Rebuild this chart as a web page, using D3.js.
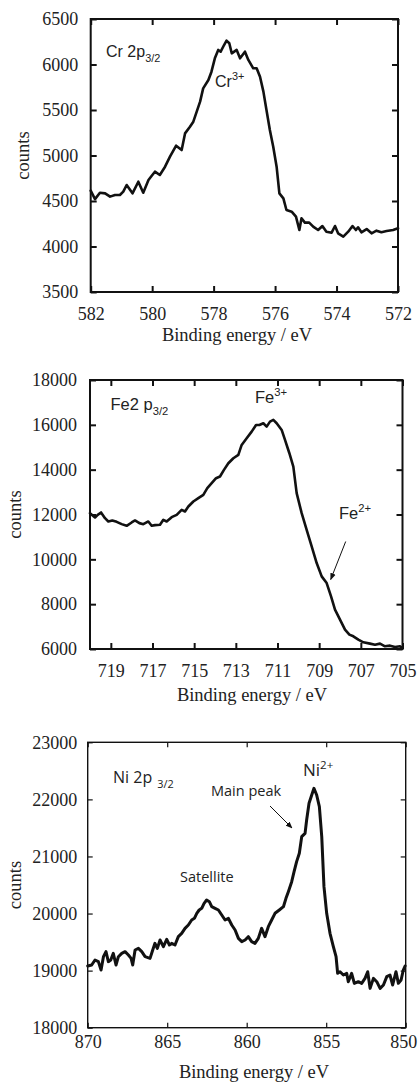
<!DOCTYPE html>
<html>
<head>
<meta charset="utf-8">
<script src="https://cdn.jsdelivr.net/npm/d3@7/dist/d3.min.js"></script>
<style>
  html, body { margin: 0; padding: 0; background: #fff; }
  svg { display: block; }
  .serif { font-family: "Liberation Serif", "DejaVu Serif", serif; }
  .sans { font-family: "Liberation Sans", Arial, sans-serif; }
  .myr { font-family: "Open Sans", "Noto Sans", sans-serif; }
</style>
</head>
<body>
<svg id="chart" width="418" height="1092"></svg>
<script>
// ---------------- DATA ----------------
// Cr 2p3/2 spectrum
const crEnergy = [582.00,581.86,581.70,581.53,581.37,581.21,581.05,580.94,580.83,580.64,580.45,580.29,580.12,580.02,579.91,579.75,579.58,579.42,579.22,579.04,578.93,578.77,578.66,578.55,578.44,578.34,578.17,578.07,577.96,577.85,577.77,577.66,577.58,577.49,577.41,577.25,577.14,576.98,576.87,576.71,576.60,576.49,576.38,576.28,576.17,576.06,575.95,575.86,575.73,575.63,575.46,575.32,575.21,575.14,575.03,574.89,574.76,574.60,574.46,574.33,574.16,574.05,573.95,573.78,573.62,573.48,573.37,573.30,573.19,573.02,572.86,572.70,572.54,572.37,572.16,572.00];
const crCounts = [4613,4521,4591,4584,4548,4566,4566,4603,4676,4584,4712,4591,4731,4775,4822,4786,4877,4987,5108,5060,5243,5317,5372,5482,5592,5738,5830,5921,6068,6160,6141,6214,6262,6233,6123,6160,6068,6141,6050,5958,5958,5866,5702,5500,5280,5097,4877,4584,4529,4401,4383,4328,4181,4310,4262,4262,4218,4181,4225,4163,4152,4225,4145,4108,4163,4225,4181,4211,4156,4192,4145,4174,4156,4170,4181,4200];

// Fe 2p3/2 spectrum
const feEnergy = [720.00,719.76,719.63,719.47,719.28,719.12,718.93,718.72,718.48,718.24,718.00,717.84,717.63,717.44,717.20,717.04,716.88,716.64,716.48,716.32,716.08,715.84,715.60,715.44,715.28,715.04,714.80,714.56,714.37,714.16,713.95,713.76,713.57,713.36,713.12,712.88,712.72,712.48,712.24,712.03,711.87,711.68,711.52,711.36,711.20,711.04,710.80,710.64,710.43,710.24,710.08,709.84,709.60,709.36,709.12,708.88,708.64,708.43,708.24,708.00,707.76,707.55,707.36,707.12,706.88,706.56,706.32,706.08,705.84,705.60,705.36,705.12,705.00];
const feCounts = [12060,11867,11986,12090,11837,11689,11733,11674,11570,11496,11644,11733,11615,11570,11689,11496,11525,11540,11763,11689,11882,11986,12208,12134,12357,12580,12728,12877,13174,13397,13619,13694,13991,14288,14510,14659,15104,15401,15698,15995,15995,16070,15921,16144,16218,16070,15772,15327,14733,14139,12951,12060,11318,10575,9833,9239,8942,8348,7754,7308,6863,6640,6566,6417,6298,6239,6194,6239,6120,6150,6090,6120,6046];

// Ni 2p3/2 spectrum
const niEnergy = [870.00,869.75,869.54,869.33,869.16,869.01,868.85,868.70,868.55,868.39,868.22,868.07,867.86,867.65,867.44,867.27,867.17,867.02,866.81,866.60,866.39,866.08,865.91,865.77,865.62,865.45,865.24,865.03,864.86,864.72,864.51,864.30,864.09,863.88,863.67,863.46,863.29,863.14,862.99,862.83,862.68,862.52,862.35,862.20,861.99,861.78,861.57,861.36,861.15,860.94,860.73,860.52,860.31,860.10,859.90,859.69,859.48,859.27,859.06,858.85,858.64,858.43,858.22,857.95,857.69,857.53,857.38,857.17,857.02,856.86,856.69,856.54,856.33,856.23,856.08,855.91,855.77,855.60,855.43,855.28,855.14,854.97,854.76,854.55,854.38,854.28,854.13,853.92,853.71,853.61,853.40,853.23,852.98,852.77,852.56,852.39,852.24,852.03,851.82,851.61,851.40,851.19,850.99,850.82,850.61,850.46,850.29,850.15,850.04];
const niCounts = [19081,19098,19186,19157,19011,19244,19332,19157,19186,19303,19098,19244,19303,19332,19273,19215,19098,19361,19390,19332,19244,19215,19361,19478,19390,19536,19419,19548,19449,19478,19449,19595,19653,19741,19799,19887,19916,20004,20062,20091,20179,20237,20208,20120,20091,20062,19974,19887,19916,19799,19712,19565,19507,19536,19595,19507,19478,19565,19741,19595,19770,19887,20004,20062,20120,20266,20383,20558,20734,20909,21055,21347,21405,21639,21931,22077,22194,22077,21873,21347,20471,20004,19653,19420,19244,18952,18981,18923,18952,18806,18952,18777,18806,18777,18864,18981,18689,18864,18806,18689,18748,18894,18923,18748,18981,18777,18835,19011,19081];

// Tick values
const crXTicks = [582, 580, 578, 576, 574, 572];
const crYTicks = [3500, 4000, 4500, 5000, 5500, 6000, 6500];
const feXTicks = [719, 717, 715, 713, 711, 709, 707, 705];
const feYTicks = [6000, 8000, 10000, 12000, 14000, 16000, 18000];
const niXTicks = [870, 865, 860, 855, 850];
const niYTicks = [18000, 19000, 20000, 21000, 22000, 23000];

// Axis titles
const xTitle = "Binding energy / eV";
const yTitle = "counts";

// ---------------- DRAW ----------------
const svg = d3.select("#chart");

const defs = svg.append("defs");
defs.append("marker")
  .attr("id", "arrowhead")
  .attr("viewBox", "0 0 10 10")
  .attr("refX", 9).attr("refY", 5)
  .attr("markerWidth", 7).attr("markerHeight", 7)
  .attr("markerUnits", "userSpaceOnUse")
  .attr("orient", "auto")
  .append("path").attr("d", "M0,1 L10,5 L0,9 Z").attr("fill", "#111");

function panel(o) {
  const x = d3.scaleLinear().domain(o.xDomain).range([o.left, o.right]);
  const y = d3.scaleLinear().domain(o.yDomain).range([o.bottom, o.top]);
  const g = svg.append("g");

  // curve
  const pts = o.energy.map((e, i) => [e, o.counts[i]]);
  g.append("path")
    .datum(pts)
    .attr("fill", "none")
    .attr("stroke", "#111")
    .attr("stroke-width", o.lineW)
    .attr("stroke-linejoin", "round")
    .attr("stroke-linecap", "round")
    .attr("d", d3.line().x(d => x(d[0])).y(d => y(d[1])));

  const styleAxis = (sel) => {
    sel.select(".domain").remove();
    sel.selectAll(".tick line").attr("stroke", "#111").attr("stroke-width", o.tickW);
    sel.attr("font-family", null).attr("font-size", null);
    sel.selectAll(".tick text").attr("class", "serif").style("font-size", "18px").attr("fill", "#222");
  };

  // bottom axis
  const gb = g.append("g").attr("transform", `translate(0,${o.bottom})`)
    .call(d3.axisBottom(x).tickValues(o.xTicks).tickSizeInner(-o.tickLen).tickSizeOuter(0).tickPadding(o.xPad).tickFormat(d3.format("d")));
  styleAxis(gb);
  if (o.lastShift) {
    gb.selectAll(".tick text").filter(d => d === o.xTicks[o.xTicks.length - 1]).attr("dx", o.lastShift);
  }

  // top axis (ticks only)
  const gt = g.append("g").attr("transform", `translate(0,${o.top})`)
    .call(d3.axisTop(x).tickValues(o.xTicks).tickSizeInner(-o.tickLen).tickSizeOuter(0).tickFormat(""));
  styleAxis(gt);

  // left axis
  const gl = g.append("g").attr("transform", `translate(${o.left},0)`)
    .call(d3.axisLeft(y).tickValues(o.yTicks).tickSizeInner(-o.tickLen).tickSizeOuter(0).tickPadding(o.yPad).tickFormat(d3.format("d")));
  styleAxis(gl);

  // right axis (ticks only)
  const gr = g.append("g").attr("transform", `translate(${o.right},0)`)
    .call(d3.axisRight(y).tickValues(o.yTicks).tickSizeInner(-o.tickLen).tickSizeOuter(0).tickFormat(""));
  styleAxis(gr);

  // frame
  g.append("rect")
    .attr("x", o.left).attr("y", o.top)
    .attr("width", o.right - o.left).attr("height", o.bottom - o.top)
    .attr("fill", "none").attr("stroke", "#111").attr("stroke-width", o.frameW);

  // axis titles
  g.append("text")
    .attr("class", "serif")
    .attr("x", o.xTitleX).attr("y", o.xTitleY)
    .attr("text-anchor", "middle")
    .style("font-size", "18.5px").attr("fill", "#222")
    .text(xTitle);
  g.append("text")
    .attr("class", "serif")
    .attr("transform", `translate(${o.yTitleX},${(o.top + o.bottom) / 2}) rotate(-90)`)
    .attr("text-anchor", "middle").attr("dy", "0.32em")
    .style("font-size", "18.5px").attr("fill", "#222")
    .text(yTitle);
  return g;
}

function label(g, xx, yy, main, small, kind, cls, size) {
  const t = g.append("text").attr("x", xx).attr("y", yy)
    .attr("class", cls).style("font-size", size + "px").attr("fill", "#222");
  t.append("tspan").text(main);
  if (small) {
    const s = t.append("tspan").style("font-size", (size * 0.68) + "px").text(small.text);
    if (small.dx) s.attr("dx", small.dx);
    s.attr("dy", kind === "sub" ? small.shift : -small.shift);
  }
  return t;
}

// Panel 1: Cr
const g1 = panel({
  energy: crEnergy, counts: crCounts,
  xDomain: [582, 572], yDomain: [3500, 6500],
  xTicks: crXTicks, yTicks: crYTicks,
  left: 90.7, right: 398, top: 19, bottom: 292,
  lineW: 2.6, frameW: 2, tickW: 2, tickLen: 6,
  xPad: 15, yPad: 12.5,
  xTitleX: 237, xTitleY: 341, yTitleX: 23
});
label(g1, 106, 57, "Cr 2p", {text: "3/2", shift: 5}, "sub", "sans", 16);
label(g1, 215, 87, "Cr", {text: "3+", shift: 7}, "sup", "sans", 16);

// Panel 2: Fe
const g2 = panel({
  energy: feEnergy, counts: feCounts,
  xDomain: [720, 705], yDomain: [6000, 18000],
  xTicks: feXTicks, yTicks: feYTicks,
  left: 90, right: 402.5, top: 380, bottom: 649,
  lineW: 2.6, frameW: 2, tickW: 2, tickLen: 6,
  xPad: 15, yPad: 13,
  xTitleX: 252, xTitleY: 701, yTitleX: 15
});
label(g2, 110.5, 410, "Fe2 p", {text: "3/2", shift: 5}, "sub", "sans", 16.5);
label(g2, 255, 403, "Fe", {text: "3+", shift: 7}, "sup", "sans", 16.5);
label(g2, 339, 519, "Fe", {text: "2+", shift: 7}, "sup", "sans", 16.5);
g2.append("line")
  .attr("x1", 345.7).attr("y1", 541.5).attr("x2", 330.7).attr("y2", 579.5)
  .attr("stroke", "#111").attr("stroke-width", 1)
  .attr("marker-end", "url(#arrowhead)");

// Panel 3: Ni
const g3 = panel({
  energy: niEnergy, counts: niCounts,
  xDomain: [870, 850], yDomain: [18000, 23000],
  xTicks: niXTicks, yTicks: niYTicks,
  left: 87.7, right: 405.7, top: 742.3, bottom: 1027.7,
  lineW: 3, frameW: 1.4, tickW: 1.2, tickLen: 5,
  xPad: 8, yPad: 10.5, lastShift: -2.5,
  xTitleX: 254, xTitleY: 1078, yTitleX: 15.5
});
label(g3, 113, 783, "Ni 2p", {text: "3/2", shift: 5, dx: 5}, "sub", "myr", 16);
label(g3, 303, 776, "Ni", {text: "2+", shift: 7}, "sup", "myr", 17);
g3.append("text").attr("x", 211).attr("y", 796)
  .attr("class", "myr").style("font-size", "14.5px").attr("fill", "#222").text("Main peak");
g3.append("text").attr("x", 180).attr("y", 882)
  .attr("class", "myr").style("font-size", "14.5px").attr("fill", "#222").text("Satellite");
g3.append("line")
  .attr("x1", 270).attr("y1", 806).attr("x2", 292).attr("y2", 828)
  .attr("stroke", "#111").attr("stroke-width", 1)
  .attr("marker-end", "url(#arrowhead)");
</script>
</body>
</html>
